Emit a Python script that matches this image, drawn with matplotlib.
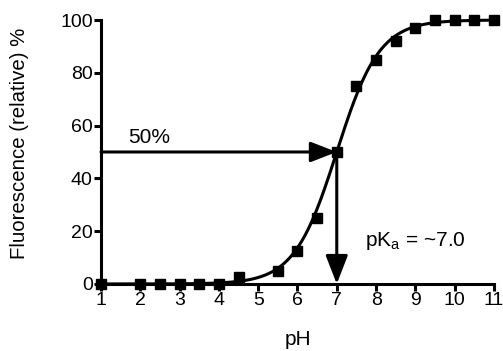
import numpy as np
import matplotlib
matplotlib.use("Agg")
import matplotlib.pyplot as plt

plt.rcParams['font.family'] = ['Liberation Sans', 'DejaVu Sans']

# measured points
ph = [1, 2, 2.5, 3, 3.5, 4, 4.5, 5.5, 6, 6.5, 7, 7.5, 8, 8.5, 9, 9.5, 10, 10.5, 11]
fluor = [0, 0, 0, 0, 0, 0, 2.5, 5, 12.5, 25, 50, 75, 85, 92, 97, 100, 100, 100, 100]

# fitted sigmoid parameters
pka = 7.0
hill = 0.8

fig = plt.figure(figsize=(5.03, 3.51), dpi=100)
ax = fig.add_axes([0.2008, 0.191, 0.7812, 0.752])

xs = np.linspace(1, 11, 400)
fit = 100 / (1 + 10 ** (hill * (pka - xs)))
ax.plot(xs, fit, color='black', lw=2.2, clip_on=False, zorder=3)
ax.plot(ph, fluor, 's', color='black', ms=7, clip_on=False, zorder=4)

# arrows marking half-max and pKa
ax.annotate('', xy=(pka, 50), xytext=(1, 50),
            arrowprops=dict(arrowstyle='-|>,head_length=1.6,head_width=0.62',
                            color='black', lw=2.2, shrinkA=0, shrinkB=0),
            annotation_clip=False)
ax.annotate('', xy=(pka, 0), xytext=(pka, 50),
            arrowprops=dict(arrowstyle='-|>,head_length=1.75,head_width=0.68',
                            color='black', lw=2.2, shrinkA=0, shrinkB=0),
            annotation_clip=False)

ax.text(1.68, 53.5, '50%', fontsize=15)
ax.text(7.72, 14.5, 'pK$_\\mathregular{a}$ = ~7.0', fontsize=15)

ax.set_xlim(1, 11)
ax.set_ylim(0, 100)
ax.set_xticks(range(1, 12))
ax.set_yticks([0, 20, 40, 60, 80, 100])
ax.set_xlabel('pH', fontsize=15)
ax.set_ylabel('Fluorescence (relative) %', fontsize=14.7)
ax.xaxis.set_label_coords(0.501, -0.175)
ax.yaxis.set_label_coords(-0.183, 0.534)

for s in ['top', 'right']:
    ax.spines[s].set_visible(False)
for s in ['left', 'bottom']:
    ax.spines[s].set_linewidth(2.2)
ax.tick_params(width=2.2, length=5, labelsize=14, pad=1)

fig.savefig('out.png', dpi=100)
